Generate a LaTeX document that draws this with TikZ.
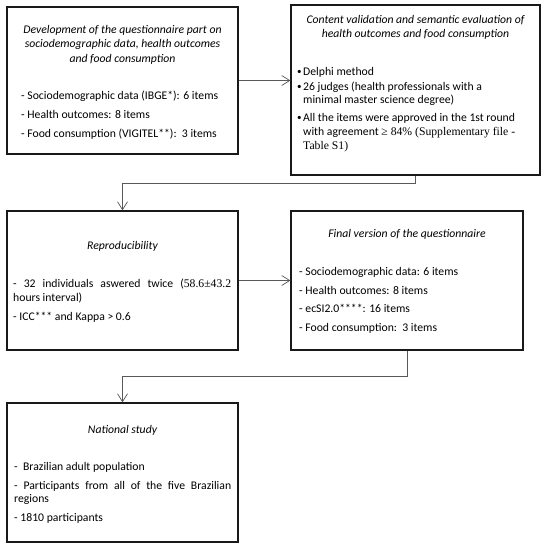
\documentclass[tikz,border=0pt]{standalone}
\usepackage{fontspec}
\setmainfont{Carlito}
\newfontfamily\tnr{Liberation Serif}
\usetikzlibrary{arrows.meta}
\begin{document}
\begin{tikzpicture}[x=1pt,y=-1pt,
  box/.style={draw=black!90,line width=1.3pt,inner sep=0pt},
  conn/.style={draw=black!65,line width=0.7pt},
  arr/.style={conn,-{Straight Barb[length=8pt,width=10pt,line width=0.7pt]}},
  txt/.style={anchor=base west,inner sep=0pt,font=\fontsize{11.7}{14}\selectfont},
  ttl/.style={anchor=base,inner sep=0pt,font=\fontsize{11.7}{14}\selectfont\itshape}]
\useasboundingbox (0,0) rectangle (544,550);
\fill[white] (0,0) rectangle (544,550);
% boxes
\node[box,minimum width=231pt,minimum height=147pt] (b1) at (122.5,80.5) {};
\node[box,minimum width=249pt,minimum height=170pt] (b2) at (415.5,90) {};
\node[box,minimum width=231pt,minimum height=139pt] (b3) at (122.5,280.5) {};
\node[box,minimum width=232pt,minimum height=139pt] (b4) at (407,280.5) {};
\node[box,minimum width=231pt,minimum height=139pt] (b5) at (122.5,472.5) {};
% box 1
\node[ttl] (t1a) at (122.5,33) {Development of the questionnaire part on};
\node[ttl] (t1b) at (122.5,47.5) {sociodemographic data, health outcomes};
\node[ttl] (t1c) at (122.5,62) {and food consumption};
\node[txt] (l1a) at (21,99) {- Sociodemographic data (IBGE*): 6 items};
\node[txt] (l1b) at (21,118) {- Health outcomes: 8 items};
\node[txt] (l1c) at (21,137) {- Food consumption (VIGITEL**):\ \ 3 items};
% box 2
\node[ttl] (t2a) at (415.5,23) {Content validation and semantic evaluation of};
\node[ttl] (t2b) at (415.5,37) {health outcomes and food consumption};
\node[txt,font=\fontsize{9}{10}\selectfont] (d2a) at (297,74) {•};
\node[txt] (l2a) at (303,75) {Delphi method};
\node[txt,font=\fontsize{9}{10}\selectfont] (d2b) at (297,89) {•};
\node[txt] (l2b) at (303,90) {26 judges (health professionals with a};
\node[txt] (l2c) at (303,103) {minimal master science degree)};
\node[txt,font=\fontsize{9}{10}\selectfont] (d2d) at (297,120) {•};
\node[txt] (l2d) at (303,121) {All the items were approved in the 1st round};
\node[txt] (l2e) at (303,135) {with agreement {\tnr≥ 84\% (Supplementary file -}};
\node[txt] (l2f) at (303,149) {\tnr Table S1)};
% box 3
\node[ttl] (t3) at (122.5,249) {Reproducibility};
\node[txt] (l3a) at (13,287) {\makebox[218pt][s]{- 32 individuals aswered twice ({\tnr 58.6±43.2}}};
\node[txt] (l3b) at (13,301) {hours interval)};
\node[txt] (l3c) at (13,320) {- ICC*** and Kappa > 0.6};
% box 4
\node[ttl] (t4) at (407,237) {Final version of the questionnaire};
\node[txt] (l4a) at (299,275) {- Sociodemographic data: 6 items};
\node[txt] (l4b) at (299,294) {- Health outcomes: 8 items};
\node[txt] (l4c) at (299,312) {- ecSI2.0****: 16 items};
\node[txt] (l4d) at (299,331) {- Food consumption:\ \ 3 items};
% box 5
\node[ttl] (t5) at (122.5,433) {National study};
\node[txt] (l5a) at (14,470) {-\ \ Brazilian adult population};
\node[txt] (l5b) at (14,489) {\makebox[217pt][s]{- Participants from all of the five Brazilian}};
\node[txt] (l5c) at (14,502) {regions};
\node[txt] (l5d) at (14,521) {- 1810 participants};
% connectors
\draw[arr] (b1.east) -- (b1.east -| b2.west);
\draw[arr] (b2.south) -- ++(0,8) -| (b3.north);
\draw[arr] (b3.east) -- (b3.east -| b4.west);
\draw[arr] (b4.south) -- ++(0,26) -| (b5.north);
\end{tikzpicture}
\end{document}
